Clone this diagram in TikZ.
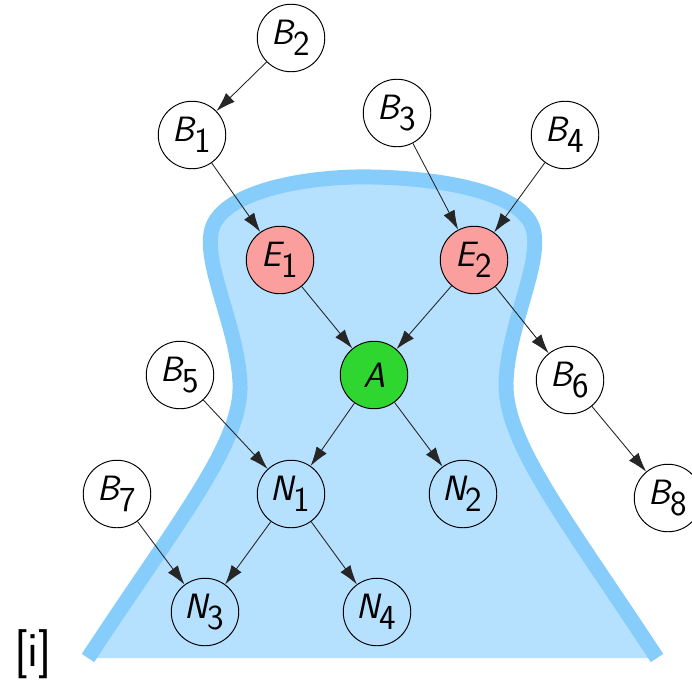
\documentclass[tikz,border=0pt]{standalone}
\usepackage{tikz}
\definecolor{regionblue}{RGB}{181,225,255}
\definecolor{borderblue}{RGB}{135,205,252}
\definecolor{epink}{RGB}{250,158,158}
\definecolor{agreen}{RGB}{48,214,48}
\usetikzlibrary{arrows.meta}
% Knotenbeschriftung
\newcommand{\knot}[2]{$\textsf{\itshape #1}_{\textsf{#2}}$}

\begin{document}
\begin{tikzpicture}[knoten/.style={draw, circle, minimum size=1.35cm, inner sep=0pt, line width=0.55pt},
					bknoten/.style={knoten, fill=white},
					eknoten/.style={knoten, fill=epink},
					aknoten/.style={knoten, fill=agreen},
					kante/.style={->, draw=black!85, line width=0.5pt},
					>={Latex[length=11pt,width=7pt]},   %Voreinstellung für Pfeilspitzen
					font=\fontsize{20}{24}\selectfont]
					%Bildbereich
					\path[use as bounding box, clip] (0,0) rectangle (13.84,13.76);
					% Bereich zeichnen
					\fill[regionblue] (1.76,0.6) .. controls (3.6,3.4) and (4.85,4.9) .. (4.8,6.1)
						.. controls (4.75,7.2) and (4.1,8.4) .. (4.22,9.1)
						.. controls (4.35,9.95) and (6.2,10.25) .. (7.44,10.22)
						.. controls (8.7,10.2) and (10.55,9.95) .. (10.68,9.1)
						.. controls (10.8,8.4) and (10.15,7.2) .. (10.12,6.1)
						.. controls (10.1,4.9) and (11.3,3.4) .. (13.14,0.6) -- cycle;
					\draw[borderblue, line width=8.5pt] (1.76,0.6) .. controls (3.6,3.4) and (4.85,4.9) .. (4.8,6.1)
						.. controls (4.75,7.2) and (4.1,8.4) .. (4.22,9.1)
						.. controls (4.35,9.95) and (6.2,10.25) .. (7.44,10.22)
						.. controls (8.7,10.2) and (10.55,9.95) .. (10.68,9.1)
						.. controls (10.8,8.4) and (10.15,7.2) .. (10.12,6.1)
						.. controls (10.1,4.9) and (11.3,3.4) .. (13.14,0.6);
					% Knoten
					\node[bknoten] (b2) at (5.82,13.0) {\knot{B}{2}};
					\node[bknoten] (b1) at (3.84,11.06) {\knot{B}{1}};
					\node[bknoten] (b3) at (7.94,11.5) {\knot{B}{3}};
					\node[bknoten] (b4) at (11.3,11.06) {\knot{B}{4}};
					\node[eknoten] (e1) at (5.6,8.56) {\knot{E}{1}};
					\node[eknoten] (e2) at (9.48,8.56) {\knot{E}{2}};
					\node[aknoten] (a) at (7.48,6.26) {\textsf{\itshape A}};
					\node[bknoten] (b5) at (3.6,6.26) {\knot{B}{5}};
					\node[bknoten] (b6) at (11.4,6.16) {\knot{B}{6}};
					\node[bknoten] (b7) at (2.34,3.88) {\knot{B}{7}};
					\node[knoten] (n1) at (5.82,3.88) {\knot{N}{1}};
					\node[knoten] (n2) at (9.26,3.88) {\knot{N}{2}};
					\node[bknoten] (b8) at (13.36,3.8) {\knot{B}{8}};
					\node[knoten] (n3) at (4.1,1.52) {\knot{N}{3}};
					\node[knoten] (n4) at (7.54,1.52) {\knot{N}{4}};
					% Kanten
					\draw[kante] (b2) -- (b1);
					\draw[kante] (b1) -- (e1);
					\draw[kante] (b3) -- (e2);
					\draw[kante] (b4) -- (e2);
					\draw[kante] (e1) -- (a);
					\draw[kante] (e2) -- (a);
					\draw[kante] (e2) -- (b6);
					\draw[kante] (b6) -- (b8);
					\draw[kante] (a) -- (n1);
					\draw[kante] (a) -- (n2);
					\draw[kante] (b5) -- (n1);
					\draw[kante] (n1) -- (n3);
					\draw[kante] (n1) -- (n4);
					\draw[kante] (b7) -- (n3);
					%Beschriftung
					\node[font=\fontsize{28}{32}\selectfont\sffamily] (label) at (0.66,0.68) {[i]};
				\end{tikzpicture}
\end{document}
